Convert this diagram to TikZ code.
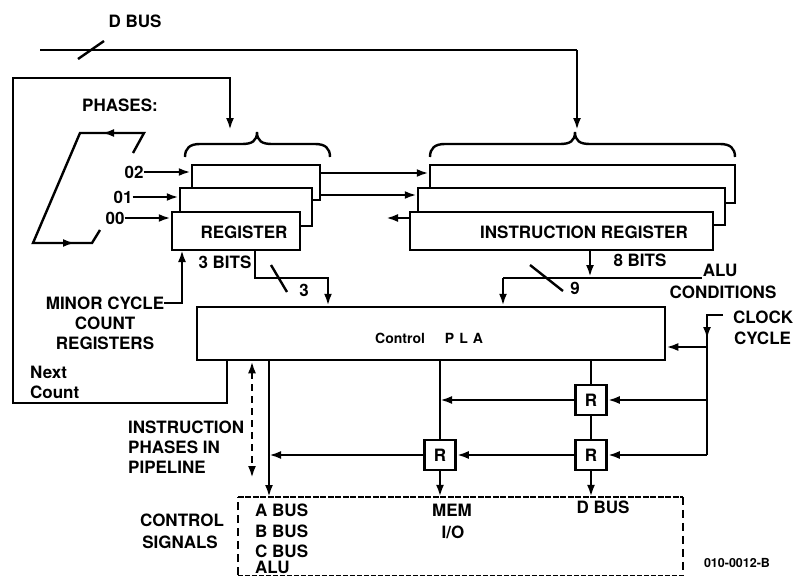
\documentclass[tikz,border=0pt]{standalone}
\usepackage{fontspec}
\setmainfont{TeX Gyre Heros}
\usetikzlibrary{arrows.meta}
\begin{document}
\begin{tikzpicture}[x=1pt,y=-1pt,
  every node/.style={font=\fontsize{17}{20}\selectfont\bfseries, inner sep=0pt},
  ln/.style={line width=2.4pt},
  arr/.style={line width=2.4pt,-{Latex[length=12pt,width=8pt]}},
  regbox/.style={draw, line width=2.5pt, fill=white, inner sep=0pt},
  rbox/.style={regbox, minimum width=31pt, minimum height=30pt},
  smallfont/.style={font=\fontsize{12.5}{14}\selectfont\bfseries},
  plafont/.style={font=\fontsize{14}{16}\selectfont\bfseries},
]
\useasboundingbox (0,0) rectangle (795,576);
\fill[white] (0,0) rectangle (795,576);

% ---------- D BUS ----------
\node (dbus) at (135,21) {D BUS};
\coordinate (db0) at (40,50);
\coordinate (db1) at (577,50);
\coordinate (db2) at (577,130);
\draw[ln] (db0) -- (db1);
\draw[arr] (db1) -- (db2);
\draw[ln] (78,59) -- (104,41);

% ---------- braces ----------
\draw[ln] (185,157) .. controls (185,148) and (190,144) .. (200,144) -- (242,144)
  .. controls (252,144) and (257,141) .. (257,132)
  .. controls (257,141) and (262,144) .. (272,144) -- (315,144)
  .. controls (325,144) and (330,148) .. (330,157);
\draw[ln] (430,157) .. controls (430,148) and (435,144) .. (445,144) -- (560,144)
  .. controls (570,144) and (575,141) .. (575,132)
  .. controls (575,141) and (580,144) .. (590,144) -- (720,144)
  .. controls (730,144) and (735,148) .. (735,157);

% ---------- register stacks ----------
\node[regbox, minimum width=128pt, minimum height=35pt] (L2) at (256,182.5) {};
\node[regbox, minimum width=132pt, minimum height=38pt] (L1) at (246,207) {};
\node[regbox, minimum width=128pt, minimum height=38pt] (L0) at (236,231) {};
\node (treg) at (244,232) {REGISTER};

\node[regbox, minimum width=305pt, minimum height=38pt] (IR2) at (582.5,184) {};
\node[regbox, minimum width=307pt, minimum height=37pt] (IR1) at (571.5,206.5) {};
\node[regbox, minimum width=303pt, minimum height=38pt] (IR0) at (561.5,231) {};
\node (tir) at (584,232) {INSTRUCTION REGISTER};

\coordinate (h1) at (320,173);
\coordinate (h2) at (320,195);
\coordinate (h3) at (386,218);
\draw[arr] (h1) -- (h1 -| IR2.west);
\draw[arr] (h2) -- (h2 -| IR1.west);
\draw[arr] (h3 -| IR0.west) -- (h3);

% ---------- phases ----------
\node (ph) at (120,105) {PHASES:};
\node (p02) at (134,172) {02};
\node (p01) at (123,197) {01};
\node (p00) at (115,218) {00};
\draw[arr] (p02.east) -- (p02.east -| L2.west);
\draw[arr] (p01.east) -- (p01.east -| L1.west);
\draw[arr] (p00.east) -- (p00.east -| L0.west);
\draw[ln] (133,153) -- (144,133) -- (80,133) -- (33,243) -- (92,243) -- (100,230);
\draw[arr] (130,133) -- (102,133);
\draw[arr] (45,243) -- (75,243);

% ---------- control PLA ----------
\node[regbox, minimum width=468pt, minimum height=53pt] (pla) at (431,333.5) {};
\node[plafont, anchor=base west] (tpla) at (375,343) {Control\hspace{20pt}P\hspace{5pt}L\hspace{5pt}A};

% ---------- minor cycle ----------
\node (mc1) at (105,303) {MINOR CYCLE};
\node (mc2) at (105,323) {COUNT};
\node (mc3) at (105,343) {REGISTERS};
\coordinate (mcx) at (182,250);
\draw[arr] (mc1.east) -| (mcx);

% ---------- next count loop ----------
\node[anchor=west] (nx) at (30,372) {Next};
\node[anchor=west] (ct) at (30,392) {Count};
\coordinate (nc1) at (227,403);
\coordinate (nc2) at (13,403);
\coordinate (nc3) at (13,78);
\coordinate (nc4) at (230,78);
\coordinate (nc5) at (230,130);
\draw[arr] (pla.south -| nc1) -- (nc1) -- (nc2) -- (nc3) -- (nc4) -- (nc5);

% ---------- 3 bits ----------
\node (b3) at (225,262) {3 BITS};
\coordinate (t0) at (255,250);
\coordinate (t1) at (255,278);
\coordinate (t2) at (328,278);
\draw[arr] (t0) -- (t1) -- (t2) -- (t2 |- pla.north);
\draw[ln] (271,265) -- (287,292);
\node (n3) at (304,290) {3};

% ---------- 8 bits / ALU conditions ----------
\node (b8) at (640,260) {8 BITS};
\coordinate (e0) at (590,250);
\coordinate (e1) at (590,277);
\draw[arr] (e0) -- (e1);
\coordinate (e2) at (503,278);
\coordinate (e3) at (702,278);
\draw[ln] (e3) -- (e2);
\draw[arr] (e2) -- (e2 |- pla.north);
\draw[ln] (530,265) -- (563,291);
\node (n9) at (575,288) {9};
\node (alu) at (720,270) {ALU};
\node (cond) at (723,292) {CONDITIONS};

% ---------- clock ----------
\node[anchor=west] (clk) at (733,317) {CLOCK};
\node[anchor=west] (cyc) at (734,338) {CYCLE};
\coordinate (c0) at (723,315);
\coordinate (c1) at (707,315);
\coordinate (c2) at (707,347);
\coordinate (c3) at (707,400);
\coordinate (c4) at (707,455);
\coordinate (c5) at (707,339);
\draw[ln] (c0) -- (c1) -- (c4);
\draw[arr] (c1) -- (c5);
\draw[arr] (c2) -- (c2 -| pla.east);

% ---------- R registers ----------
\node[rbox] (R1) at (440,455) {R};
\node[rbox] (R2) at (591,400) {R};
\node[rbox] (R3) at (591,455) {R};
\draw[arr] (c3) -- (R2.east);
\draw[arr] (c4) -- (R3.east);

% ---------- control signals box ----------
\node[minimum width=445pt, minimum height=78pt] (cs) at (460.5,536) {};
\draw[line width=2.4pt, dash pattern=on 8pt off 5pt] (cs.south west) -- (cs.north west);
\draw[line width=2.4pt, dash pattern=on 6pt off 1.5pt] (cs.north west) -- (cs.north east);
\draw[line width=2.4pt, dash pattern=on 8pt off 5pt] (cs.north east) -- (cs.south east);
\draw[line width=1.2pt, dash pattern=on 5pt off 2pt] (cs.south west) -- (cs.south east);

\coordinate (dsh) at (252,478);
\draw[line width=2.4pt, dash pattern=on 7pt off 5pt, {Latex[length=12pt,width=8pt]}-{Latex[length=12pt,width=8pt]}] (pla.south -| dsh) -- (dsh);
\coordinate (ab) at (269,497);
\draw[arr] (pla.south -| ab) -- (ab);

\draw[ln] (pla.south -| R1.north) -- (R1.north);
\draw[ln] (pla.south -| R2.north) -- (R2.north);
\draw[ln] (R2.south) -- (R3.north);
\draw[arr] (R2.west) -- (R2.west -| R1.north);
\draw[arr] (R3.west) -- (R1.east);
\draw[arr] (R1.west) -- (R1.west -| ab);
\draw[arr] (R1.south) -- (R1.south |- cs.north);
\draw[arr] (R3.south) -- (R3.south |- cs.north);

% ---------- texts below ----------
\node[anchor=west] (ip1) at (128,427) {INSTRUCTION};
\node[anchor=west] (ip2) at (128,447) {PHASES IN};
\node[anchor=west] (ip3) at (128,467) {PIPELINE};
\node (cs1) at (182,520) {CONTROL};
\node (cs2) at (180,542) {SIGNALS};
\node[anchor=west] (ta) at (255,510) {A BUS};
\node[anchor=west] (tb) at (255,531) {B BUS};
\node[anchor=west] (tc) at (255,551) {C BUS};
\node[anchor=base west] (tal) at (255,573) {ALU};
\node (tmem) at (452,510) {MEM};
\node (tio) at (453,532) {I/O};
\node (tdb) at (603,507) {D BUS};
\node[smallfont] (code) at (737,563) {010-0012-B};
\end{tikzpicture}
\end{document}
